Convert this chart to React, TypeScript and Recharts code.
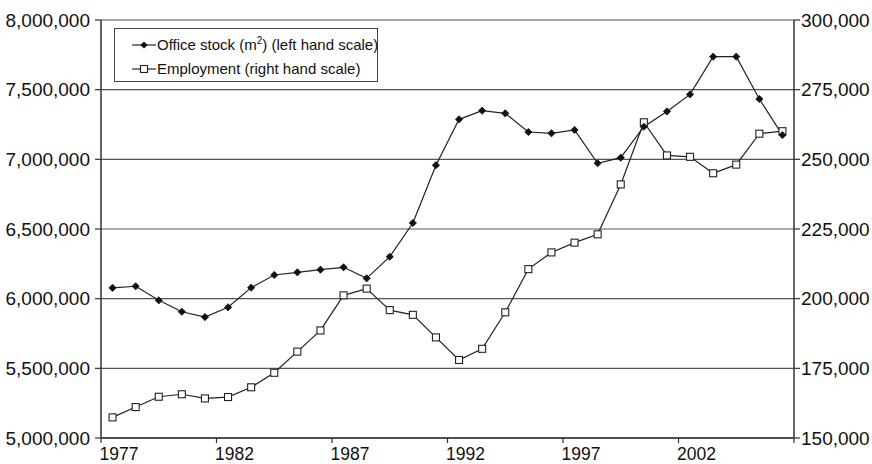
import React from 'react';
import { LineChart, Line, XAxis, YAxis, CartesianGrid } from 'recharts';

const years = [1977, 1978, 1979, 1980, 1981, 1982, 1983, 1984, 1985, 1986, 1987, 1988, 1989, 1990, 1991, 1992, 1993, 1994, 1995, 1996, 1997, 1998, 1999, 2000, 2001, 2002, 2003, 2004, 2005, 2006];
const officeStock = [6078000, 6089000, 5988000, 5906000, 5868000, 5938000, 6079000, 6170000, 6189000, 6208000, 6225000, 6146000, 6301000, 6543000, 6958000, 7287000, 7349000, 7330000, 7196000, 7187000, 7211000, 6972000, 7012000, 7234000, 7344000, 7466000, 7737000, 7737000, 7433000, 7174000];
const employment = [157400, 161100, 164800, 165700, 164200, 164700, 168200, 173400, 181000, 188600, 201200, 203600, 195900, 194200, 186100, 178000, 182000, 195100, 210600, 216600, 220100, 223100, 241000, 263300, 251400, 250900, 245000, 248100, 259200, 260100];
const leftTicks = [5000000, 5500000, 6000000, 6500000, 7000000, 7500000, 8000000];
const rightTicks = [150000, 175000, 200000, 225000, 250000, 275000, 300000];
const yearTickLabels = ['1977', '1982', '1987', '1992', '1997', '2002', ''];
const yearTickPositions = [1976.5, 1981.5, 1986.5, 1991.5, 1996.5, 2001.5, 2006.5];

const data = years.map((year, i) => ({ year, office: officeStock[i], employment: employment[i] }));

const FONT = '"Liberation Sans", Arial, Helvetica, sans-serif';
const fmt = (v: number) => v.toLocaleString('en-US');

const Diamond = (props: any) => {
  const { cx, cy, index } = props;
  const r = 3.6;
  return <path key={`d${index}`} d={`M${cx},${cy - r}L${cx + r},${cy}L${cx},${cy + r}L${cx - r},${cy}Z`} fill="#111" stroke="#111" strokeWidth={0.8} />;
};

const Square = (props: any) => {
  const { cx, cy, index } = props;
  return <rect key={`s${index}`} x={cx - 3.5} y={cy - 3.5} width={7} height={7} fill="#fff" stroke="#222" strokeWidth={1.1} />;
};

const YearTick = (props: any) => {
  const { x, y, payload, index } = props;
  const i = yearTickPositions.indexOf(payload.value);
  const label = i >= 0 ? yearTickLabels[i] : '';
  return (
    <text key={`t${index}`} x={x + 18} y={y} dy="0.71em" textAnchor="middle" fontSize={17.5} fill="#111" fontFamily={FONT}>
      {label}
    </text>
  );
};

export default function App() {
  return (
    <div style={{ position: 'absolute', left: 0, top: 0, width: 872, height: 464, background: '#fff' }}>
      <LineChart width={872} height={464} data={data} margin={{ top: 20, right: 0, bottom: 0, left: 0 }}>
        <CartesianGrid yAxisId="left" vertical={false} horizontal={true} stroke="#555" strokeWidth={1.2} />
        <XAxis
          dataKey="year"
          type="number"
          domain={[1976.5, 2006.5]}
          ticks={yearTickPositions}
          interval={0}
          allowDataOverflow
          height={26}
          tickSize={5}
          tickMargin={5}
          tick={<YearTick />}
          axisLine={{ stroke: '#333', strokeWidth: 1.5 }}
          tickLine={{ stroke: '#333', strokeWidth: 1.2 }}
        />
        <YAxis
          yAxisId="left"
          orientation="left"
          domain={[5000000, 8000000]}
          ticks={leftTicks}
          interval={0}
          width={101}
          tickSize={6}
          tickMargin={5}
          tickFormatter={fmt}
          tick={{ fontSize: 19, fill: '#111', fontFamily: FONT }}
          axisLine={{ stroke: '#333', strokeWidth: 1.5 }}
          tickLine={{ stroke: '#333', strokeWidth: 1.2 }}
        />
        <YAxis
          yAxisId="right"
          orientation="right"
          domain={[150000, 300000]}
          ticks={rightTicks}
          interval={0}
          width={78}
          tickSize={6}
          tickMargin={1}
          tickFormatter={fmt}
          tick={{ fontSize: 19, fill: '#111', fontFamily: FONT }}
          axisLine={{ stroke: '#333', strokeWidth: 1.5 }}
          tickLine={{ stroke: '#333', strokeWidth: 1.2 }}
        />
        <Line yAxisId="right" dataKey="employment" stroke="#222" strokeWidth={1.2} dot={<Square />} activeDot={false} isAnimationActive={false} />
        <Line yAxisId="left" dataKey="office" stroke="#222" strokeWidth={1.2} dot={<Diamond />} activeDot={false} isAnimationActive={false} />
      </LineChart>
      <div style={{ position: 'absolute', left: 114, top: 28, width: 264, height: 54, border: '1.2px solid #444', background: '#fff', boxSizing: 'border-box', fontFamily: FONT, fontSize: 15, color: '#111' }}>
        <svg width={30} height={54} style={{ position: 'absolute', left: 16, top: 0 }}>
          <line x1={1} y1={16} x2={25} y2={16} stroke="#222" strokeWidth={1.2} />
          <path d="M13,12.4L16.6,16L13,19.6L9.4,16Z" fill="#111" />
          <line x1={1} y1={40} x2={25} y2={40} stroke="#222" strokeWidth={1.2} />
          <rect x={9.5} y={36.5} width={7} height={7} fill="#fff" stroke="#222" strokeWidth={1.1} />
        </svg>
        <div style={{ position: 'absolute', left: 42, top: 7, whiteSpace: 'nowrap', lineHeight: '18px' }}>
          Office stock (m<span style={{ fontSize: 10, position: 'relative', top: -6 }}>2</span>) (left hand scale)
        </div>
        <div style={{ position: 'absolute', left: 42, top: 31, whiteSpace: 'nowrap', lineHeight: '18px' }}>
          Employment (right hand scale)
        </div>
      </div>
    </div>
  );
}
